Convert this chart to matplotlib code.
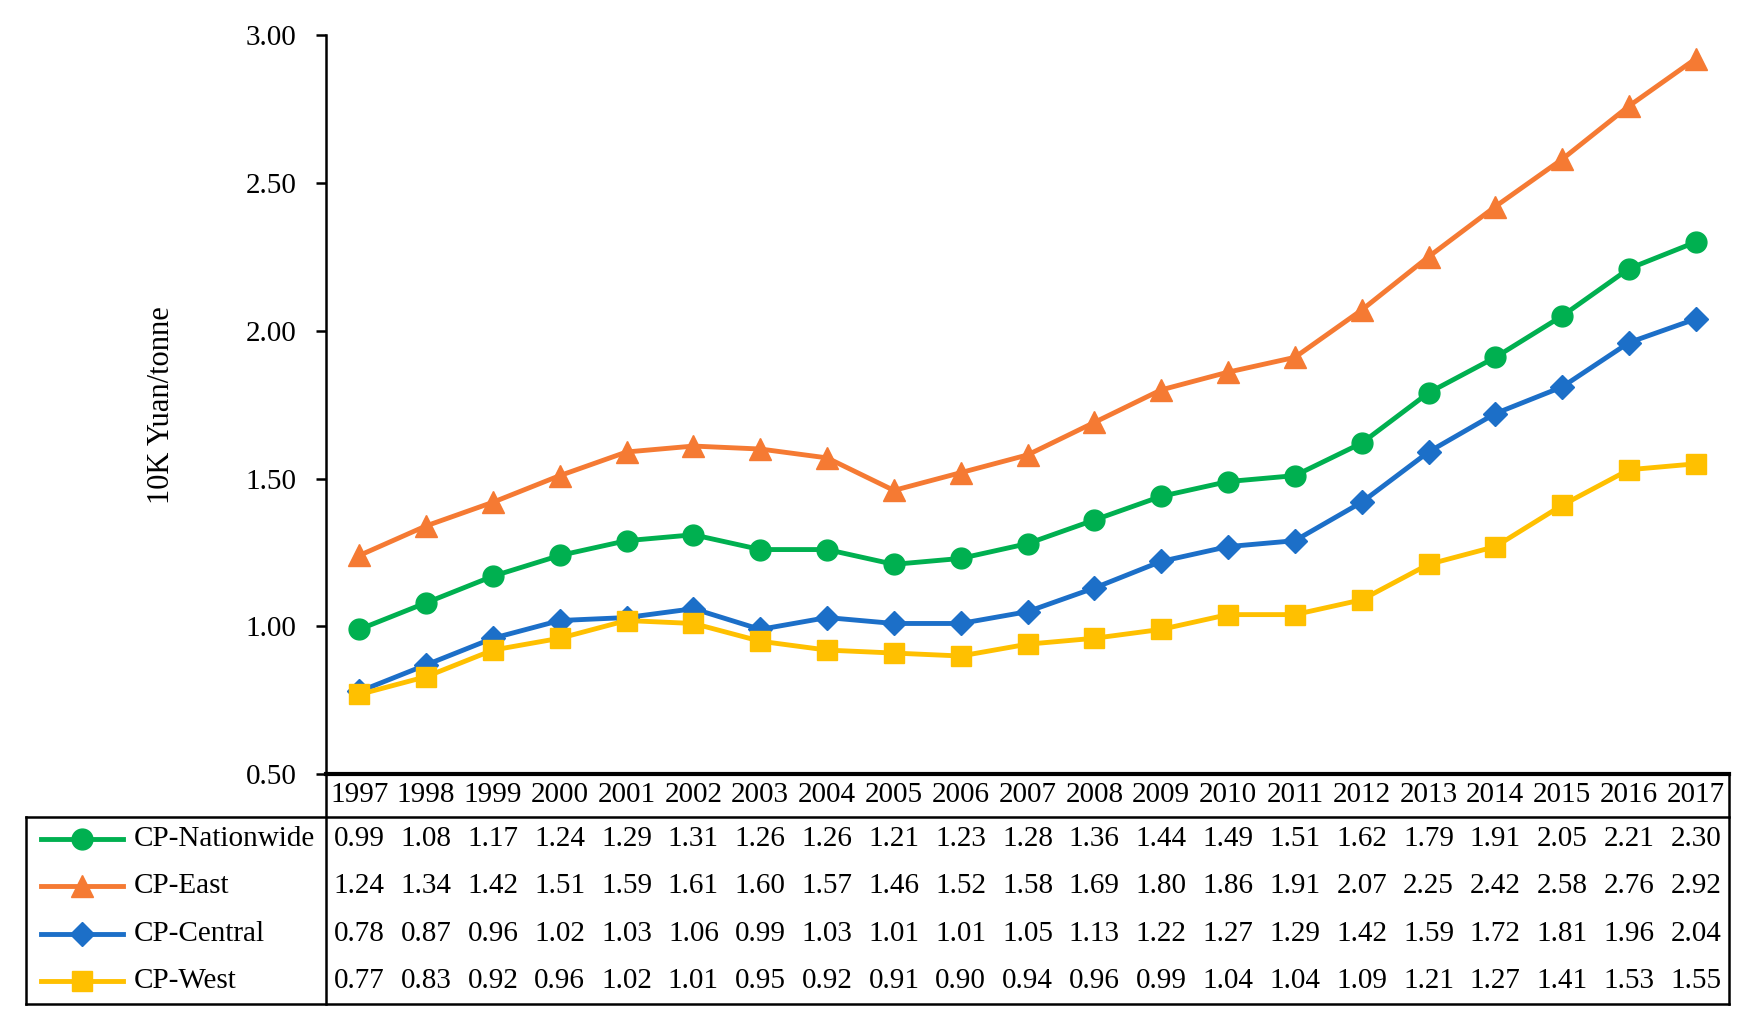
import numpy as np
import matplotlib.pyplot as plt
import matplotlib.transforms as mtransforms
from matplotlib.lines import Line2D

years = [str(y) for y in range(1997, 2018)]
nationwide = [0.99, 1.08, 1.17, 1.24, 1.29, 1.31, 1.26, 1.26, 1.21, 1.23, 1.28,
              1.36, 1.44, 1.49, 1.51, 1.62, 1.79, 1.91, 2.05, 2.21, 2.30]
east = [1.24, 1.34, 1.42, 1.51, 1.59, 1.61, 1.60, 1.57, 1.46, 1.52, 1.58,
        1.69, 1.80, 1.86, 1.91, 2.07, 2.25, 2.42, 2.58, 2.76, 2.92]
central = [0.78, 0.87, 0.96, 1.02, 1.03, 1.06, 0.99, 1.03, 1.01, 1.01, 1.05,
           1.13, 1.22, 1.27, 1.29, 1.42, 1.59, 1.72, 1.81, 1.96, 2.04]
west = [0.77, 0.83, 0.92, 0.96, 1.02, 1.01, 0.95, 0.92, 0.91, 0.90, 0.94,
        0.96, 0.99, 1.04, 1.04, 1.09, 1.21, 1.27, 1.41, 1.53, 1.55]

series = [("CP-Nationwide", nationwide, "#00B050", "o", 15),
          ("CP-East", east, "#F57A33", "^", 16),
          ("CP-Central", central, "#1C6FC8", "D", 12),
          ("CP-West", west, "#FFC000", "s", 15)]

plt.rcParams['font.family'] = ['Liberation Serif', 'DejaVu Serif']
fs = 21

fig = plt.figure(figsize=(17.52, 10.31), dpi=100)
ax = fig.add_axes([0.186, 0.249, 0.801, 0.717])

x = np.arange(len(years))
for name, vals, col, mk, ms in series:
    ax.plot(x, vals, color=col, lw=3.5, marker=mk, markersize=ms, label=name)

ax.set_xlim(-0.5, len(years) - 0.5)
ax.set_ylim(0.5, 3.0)
ax.set_yticks([0.5, 1.0, 1.5, 2.0, 2.5, 3.0])
ax.set_yticklabels(["%.2f" % v for v in [0.5, 1.0, 1.5, 2.0, 2.5, 3.0]], fontsize=fs)
ax.set_xticks([])
ax.tick_params(axis='y', length=7, width=1.8, pad=14)
for s in ['top', 'right']:
    ax.spines[s].set_visible(False)
ax.spines['left'].set_linewidth(1.8)
ax.spines['bottom'].set_linewidth(3)
ax.set_ylabel("10K Yuan/tonne", fontsize=22, labelpad=50)

# table below the axes, x in data units, y in axes fraction
tr = mtransforms.blended_transform_factory(ax.transData, ax.transAxes)
y_year = -0.0287
y_rows = [-0.088, -0.151, -0.216, -0.279]
y_mid = -0.0575
y_bot = -0.311
x_left = -4.98
x_right = len(years) - 0.5

for i, yr in enumerate(years):
    ax.text(i, y_year, yr, transform=tr, ha='center', va='center', fontsize=fs, clip_on=False)

for (name, vals, col, mk, ms), yr_ in zip(series, y_rows):
    for i, v in enumerate(vals):
        ax.text(i, yr_, "%.2f" % v, transform=tr, ha='center', va='center', fontsize=fs, clip_on=False)
    ax.add_line(Line2D([-4.76, -3.54], [yr_, yr_], transform=tr, color=col, lw=3.5,
                       clip_on=False))
    ax.add_line(Line2D([-4.15], [yr_], transform=tr, color=col, marker=mk, markersize=ms,
                       clip_on=False))
    ax.text(-3.38, yr_, name, transform=tr, ha='left', va='center', fontsize=fs, clip_on=False)

lw = 1.8
lines = [([x_left, x_right], [y_mid, y_mid]),
         ([x_left, x_right], [y_bot, y_bot]),
         ([x_left, x_left], [y_mid, y_bot]),
         ([x_right, x_right], [0, y_bot]),
         ([-0.5, -0.5], [0, y_bot])]
for xs, ys in lines:
    ax.add_line(Line2D(xs, ys, transform=tr, color='black', lw=lw, clip_on=False))

fig.savefig("out.png", dpi=100)
